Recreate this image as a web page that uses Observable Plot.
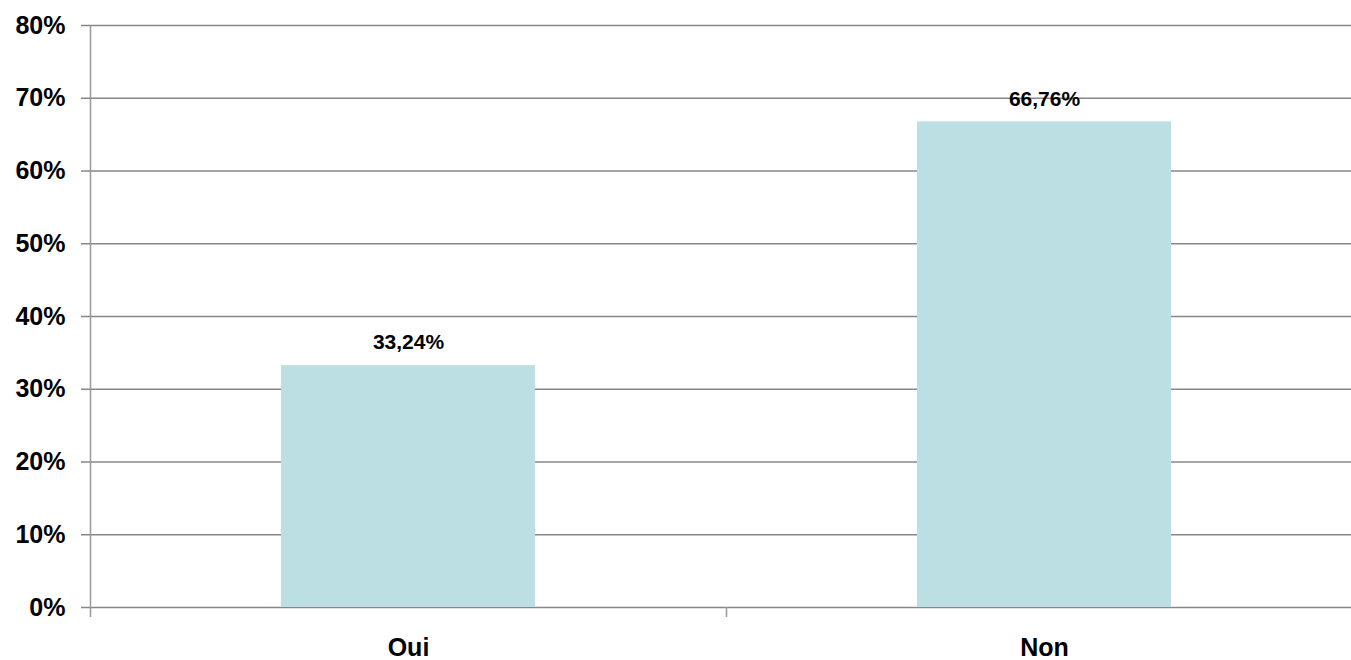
<!DOCTYPE html>
<html><head><meta charset="utf-8">
<script src="https://cdn.jsdelivr.net/npm/d3@7"></script>
<script src="https://cdn.jsdelivr.net/npm/@observablehq/plot@0.6"></script>
<style>body{margin:0;background:#fff;overflow:hidden} svg{display:block}</style>
</head><body><div id="chart"></div>
<script>
const categories = ["Oui", "Non"];
const values = [33.24, 66.76];
const yTicks = [0, 10, 20, 30, 40, 50, 60, 70, 80];

const data = categories.map((c, i) => ({category: c, value: values[i]}));
const fmt = v => v.toFixed(2).replace(".", ",") + "%";

const plot = Plot.plot({
  width: 1351, height: 660,
  marginLeft: 90, marginTop: 25, marginBottom: 53, marginRight: 0,
  style: {fontFamily: "'Liberation Sans', Arial, sans-serif", fontWeight: "bold", fontSize: "25px", color: "#000", background: "#fff"},
  x: {domain: categories, range: [90, 1362], paddingInner: 0.6, paddingOuter: 0.3, axis: null, label: null},
  y: {domain: [0, 80], axis: null, label: null},
  marks: [
    Plot.ruleY(yTicks, {stroke: "#878787", strokeWidth: 1.5}),
    Plot.barY(data, {x: "category", y: "value", fill: "#bbdfe2"}),
    Plot.ruleX([categories[0]], {dx: -318, y1: 80, y2: 0, insetBottom: -10, stroke: "#999", strokeWidth: 1.5}),
    Plot.ruleX([categories[0]], {dx: 318, y1: 0, y2: 0, insetBottom: -10, stroke: "#999", strokeWidth: 1.5}),
    Plot.axisY(yTicks, {anchor: "left", label: null, tickSize: 9, tickPadding: 16, tickFormat: d => d + "%", stroke: "#878787", strokeWidth: 1.5, fontSize: 25, fontWeight: "bold", fill: "#000"}),
    Plot.axisX({label: null, tickSize: 0, tickPadding: 31, fontSize: 25, fontWeight: "bold", fill: "#000"}),
    Plot.text(data, {x: "category", y: "value", text: d => fmt(d.value), dy: -23, fontSize: 21, fontWeight: "bold", fill: "#000"})
  ]
});
document.getElementById("chart").appendChild(plot);
</script>
</body></html>
